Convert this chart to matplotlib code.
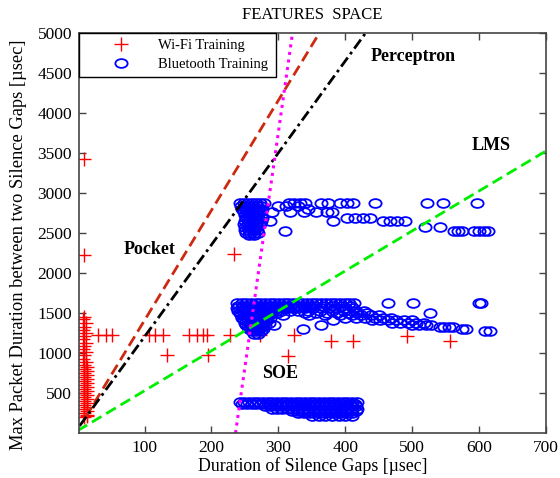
import numpy as np
import matplotlib
matplotlib.use("Agg")
import matplotlib.pyplot as plt
from matplotlib.markers import MarkerStyle
from matplotlib.transforms import Affine2D

plt.rcParams["font.family"] = ["Liberation Serif", "DejaVu Serif"]

# Wi-Fi training points (x, y)
wifi_pts = [(10, 3430), (10, 2230), (233, 2240),
            (10, 1450), (8, 1420), (12, 1380), (10, 1330), (8, 1290), (12, 1250),
            (10, 1210), (8, 1170), (12, 1130), (10, 1090), (8, 1050), (12, 1010),
            (10, 970), (8, 930), (12, 890),
            (9, 850), (14, 825), (9, 800), (14, 775), (9, 750), (14, 725), (9, 700),
            (14, 675), (9, 650), (14, 625), (9, 600), (14, 575), (9, 550), (14, 525),
            (9, 500), (14, 475), (9, 450), (14, 425), (9, 400), (14, 375), (9, 350),
            (14, 325), (9, 300), (14, 275), (9, 250), (14, 225), (9, 200), (14, 210),
            (31, 1230), (42, 1230), (51, 1230), (106, 1230), (115, 1230), (128, 1230),
            (167, 1230), (178, 1230), (187, 1230), (193, 1230), (227, 1230), (272, 1230),
            (324, 1230), (378, 1150), (412, 1150), (492, 1212), (557, 1150),
            (133, 970), (195, 970), (315, 962)]

# Bluetooth training points, stored as rows: y value -> x values
bt_rows_y = [2880, 2840, 2800, 2760, 2720, 2690, 2650, 2610, 2580, 2540, 2520, 2500, 2470,
             1620, 1590, 1560, 1530, 1500, 1470, 1440, 1410, 1380, 1350, 1325, 1295,
             1270, 1240,
             385, 360, 335, 305, 275, 245, 215]
bt_rows_x = [
    [242, 248, 254, 260, 266, 272, 278, 316, 324, 332, 340, 364, 374, 392, 402, 412,
     445, 522, 546, 597],
    [244, 250, 256, 262, 268, 274, 300, 312, 330],
    [246, 252, 258, 264, 270, 276, 345],
    [248, 254, 260, 266, 272, 290, 318, 338, 356, 372, 380],
    [250, 256, 262, 268, 274],
    [252, 258, 264, 270, 276, 403, 415, 427, 437],
    [250, 256, 262, 268, 274, 288, 382, 457, 467, 478, 490],
    [248, 254, 260, 266, 272],
    [250, 256, 262, 268, 519, 542],
    [250, 256, 262, 268],
    [310, 562, 568, 574, 592, 600, 607, 613],
    [252, 258, 264, 270],
    [256, 264],
    [238, 245, 252, 259, 266, 273, 280, 287, 294, 301, 308, 315, 322, 329, 336, 343,
     350, 357, 364, 371, 378, 385, 392, 399, 406, 413, 464, 501, 600, 603],
    [240, 247, 254, 261, 268, 275, 282, 289, 296, 303, 310, 317, 324, 331, 338, 345,
     352, 366, 380, 394, 408],
    [238, 245, 252, 259, 266, 273, 280, 287, 294, 301, 308, 315, 322, 329, 340, 352,
     364, 376, 388, 400, 412],
    [240, 247, 254, 261, 268, 275, 282, 289, 296, 304, 318, 330, 345, 362, 380, 398,
     416, 428],
    [242, 249, 256, 263, 270, 277, 284, 291, 298, 340, 356, 372, 388, 404, 418, 432, 527],
    [244, 251, 258, 265, 272, 279, 286, 307, 346, 370, 392, 410, 424, 438, 450],
    [246, 253, 260, 267, 274, 281, 288, 400, 416, 430, 444, 456, 468],
    [248, 255, 262, 269, 276, 283, 382, 440, 452, 464, 476, 488, 500],
    [250, 257, 264, 271, 278, 286, 470, 482, 494, 506, 518],
    [252, 259, 266, 273, 280, 293, 363, 500, 510, 520, 528],
    [254, 261, 268, 275, 542, 548, 555, 561],
    [256, 263, 270, 277, 337, 575, 580],
    [260, 267, 274, 609, 616],
    [264, 270],
    [242, 249, 256, 263, 270, 277, 284, 291, 298, 305, 312, 319, 326, 333, 340, 347,
     354, 361, 368, 375, 382, 389, 396, 403, 410, 418],
    [246, 253, 260, 267, 274, 281, 288, 295, 302, 309, 316, 323, 330, 337, 344, 351,
     358, 365, 372, 379, 386, 393, 400, 407, 414],
    [280, 288, 296, 304, 312, 320, 328, 336, 344, 352, 360, 368, 376, 384, 392, 400,
     408, 416],
    [290, 298, 306, 314, 322, 330, 338, 346, 354, 362, 370, 378, 386, 394, 402, 410, 418],
    [320, 328, 336, 344, 352, 360, 368, 376, 384, 392, 400, 408, 416],
    [330, 338, 346, 354, 362, 370, 378, 386, 394, 402, 410],
    [350, 360, 370, 380, 390, 400, 410],
]

# decision boundaries (two points each)
pocket_x, pocket_y = [12, 370], [200, 5120]
perceptron_x, perceptron_y = [3, 440], [90, 5110]
lms_x, lms_y = [0, 700], [30, 3525]
soe_x, soe_y = [236, 322], [0, 5050]

x_ticks = [100, 200, 300, 400, 500, 600, 700]
y_ticks = [500, 1000, 1500, 2000, 2500, 3000, 3500, 4000, 4500, 5000]


def main():
    fig = plt.figure(figsize=(5.6, 4.78), dpi=100)
    ax = fig.add_axes([0.141, 0.094, 0.834, 0.837])

    wifi_x = [p[0] for p in wifi_pts]
    wifi_y = [p[1] for p in wifi_pts]
    bt_x = []
    bt_y = []
    for yv, xs in zip(bt_rows_y, bt_rows_x):
        bt_x += xs
        bt_y += [yv] * len(xs)

    ellipse = MarkerStyle("o", transform=Affine2D().scale(1.4, 1.0))
    ax.plot(wifi_x, wifi_y, ls="none", marker="+", ms=10, mew=1.0, color="#ff0000",
            label="Wi-Fi Training")
    ax.plot(bt_x, bt_y, ls="none", marker=ellipse, ms=6.3, mew=1.3, mfc="none",
            mec="#0000ff", label="Bluetooth Training")

    ax.plot(pocket_x, pocket_y, ls=(0, (4, 2)), lw=2, color="#cc2a10")
    ax.plot(perceptron_x, perceptron_y, ls=(0, (4, 1.5, 1, 1.5)), lw=2, color="black")
    ax.plot(lms_x, lms_y, ls=(0, (4, 2)), lw=2, color="#00ee00")
    ax.plot(soe_x, soe_y, ls=(0, (1, 1.5)), lw=2.2, color="#ff00ff")

    ax.text(501, 4700, "Perceptron", fontsize=13, fontweight="bold", ha="center", va="center")
    ax.text(618, 3600, "LMS", fontsize=13, fontweight="bold", ha="center", va="center")
    ax.text(107, 2290, "Pocket", fontsize=13, fontweight="bold", ha="center", va="center")
    ax.text(303, 750, "SOE", fontsize=13, fontweight="bold", ha="center", va="center")

    ax.set_xlim(2, 700)
    ax.set_ylim(0, 5000)
    ax.set_xticks(x_ticks)
    ax.set_yticks(y_ticks)
    ax.tick_params(direction="in", length=5, width=1, top=True, right=True,
                   labelsize=12.5, color="#444444", pad=5)
    for s in ax.spines.values():
        s.set_color("#444444")
        s.set_linewidth(1.2)

    ax.set_title("FEATURES  SPACE", fontsize=12, pad=10)
    ax.set_xlabel("Duration of Silence Gaps [\u00b5sec]", fontsize=12.8, labelpad=1)
    ax.set_ylabel("Max Packet Duration between two Silence Gaps [\u00b5sec]", fontsize=13.3)
    ax.yaxis.set_label_coords(-0.112, 0.47)

    leg = ax.legend(loc="upper left", bbox_to_anchor=(0, 0.885, 0.422, 0.115),
                    mode="expand", borderaxespad=0, fancybox=False, framealpha=1,
                    edgecolor="black", fontsize=10.5, handlelength=4.9, handletextpad=0.1,
                    borderpad=0.4, labelspacing=0.4)
    leg.get_frame().set_linewidth(1)

    fig.savefig("out.png", dpi=100)


if __name__ == '__main__':
    main()
